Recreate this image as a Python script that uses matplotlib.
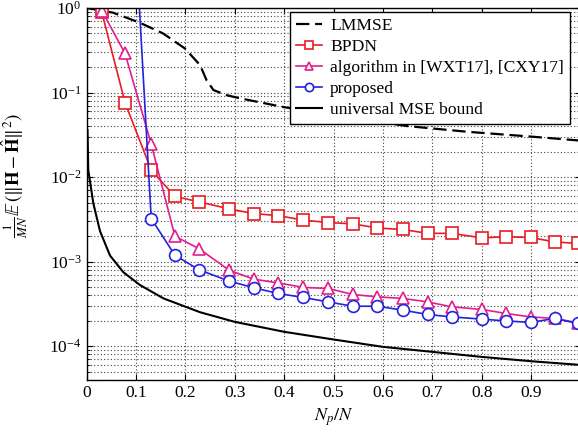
import matplotlib
matplotlib.use("Agg")
import matplotlib.pyplot as plt
from matplotlib.ticker import LogLocator, NullFormatter

plt.rcParams['font.family'] = ['Liberation Serif', 'DejaVu Serif']
plt.rcParams['mathtext.fontset'] = 'stix'

# ---- data ----
x_pts = [0.031, 0.078, 0.131, 0.179, 0.228, 0.289, 0.339, 0.388, 0.439, 0.489,
         0.539, 0.589, 0.640, 0.691, 0.739, 0.800, 0.849, 0.899, 0.948, 0.994]
bpdn = [0.89, 0.076, 0.0121, 0.0059, 0.0051, 0.0042, 0.0037, 0.0035, 0.0031, 0.0029,
        0.0028, 0.0025, 0.0024, 0.00216, 0.00216, 0.00191, 0.00197, 0.00193, 0.00171, 0.00164]
wxt = [0.93, 0.29, 0.0246, 0.0020, 0.00142, 0.00079, 0.00062, 0.00056, 0.000495, 0.000482,
       0.000409, 0.000383, 0.000367, 0.000334, 0.000292, 0.000272, 0.000244, 0.000222, 0.000213, 0.000189]
proposed = [1.0e4, 1.1e3, 0.00323, 0.00119, 0.00080, 0.000588, 0.00049, 0.00042, 0.000377, 0.000334,
            0.000297, 0.000297, 0.000267, 0.000237, 0.000222, 0.000209, 0.000199, 0.000191, 0.000213, 0.000186]

lmmse_x = [0.0, 0.054, 0.108, 0.155, 0.199, 0.23, 0.243, 0.257, 0.284, 0.311, 0.402,
           0.648, 0.770, 0.904, 1.0]
lmmse = [1.0, 0.88, 0.67, 0.50, 0.333, 0.211, 0.14, 0.107, 0.093, 0.0854, 0.0668,
         0.0402, 0.0344, 0.030, 0.027]

bound_x = [0.002, 0.0036, 0.0138, 0.0273, 0.0476, 0.0745, 0.108, 0.156, 0.201, 0.23,
           0.30, 0.40, 0.50, 0.60, 0.70, 0.80, 0.90, 1.0]
bound = [0.036, 0.0121, 0.0049, 0.0023, 0.00118, 0.00075, 0.00053, 0.000367, 0.000292, 0.000252,
         0.000194, 0.000148, 0.00012, 0.0000982, 0.0000857, 0.0000747, 0.0000664, 0.0000600]

labels = ["LMMSE", "BPDN", "algorithm in [WXT17], [CXY17]", "proposed", "universal MSE bound"]
x_ticks = [0, 0.1, 0.2, 0.3, 0.4, 0.5, 0.6, 0.7, 0.8, 0.9]

W, H = 578, 433
fig = plt.figure(figsize=(W / 100, H / 100), dpi=100)
ax = fig.add_axes([86.5 / W, (H - 380) / H, (580.5 - 86.5) / W, (380 - 8) / H])

red = '#e81c24'
mag = '#e21e8c'
blue = '#2222e0'

ax.plot(lmmse_x, lmmse, color='black', lw=1.6, ls=(0, (6, 2.6)), label=labels[0])
ax.plot(x_pts, bpdn, color=red, lw=1.2, marker='s', ms=8.5, mfc='white', mec=red, mew=1.2, label=labels[1])
ax.plot(x_pts, wxt, color=mag, lw=1.2, marker='^', ms=9, mfc='white', mec=mag, mew=1.2, label=labels[2])
ax.plot(x_pts, proposed, color=blue, lw=1.2, marker='o', ms=8.5, mfc='white', mec=blue, mew=1.2, label=labels[3])
ax.plot(bound_x, bound, color='black', lw=1.5, label=labels[4])

ax.set_yscale('log')
ax.set_xlim(0, 1)
ax.set_ylim(10 ** -4.40, 1)
ax.set_xticks(x_ticks)
ax.set_xticklabels([("%g" % t) for t in x_ticks])
ax.yaxis.set_major_locator(LogLocator(base=10, numticks=10))
ax.yaxis.set_minor_locator(LogLocator(base=10, subs=range(2, 10), numticks=20))
ax.yaxis.set_minor_formatter(NullFormatter())

ax.grid(True, which='major', ls=(0, (1, 2)), color='#444444', lw=0.8)
ax.grid(True, which='minor', axis='y', ls=(0, (1, 2)), color='#444444', lw=0.8)
ax.tick_params(which='both', direction='in', labelsize=12.5, top=True, right=True)
ax.tick_params(which='major', length=4)
ax.tick_params(which='minor', length=2.5)
for s in ax.spines.values():
    s.set_linewidth(1.0)

ax.set_xlabel(r"$N_p/N$", fontsize=13)
ax.xaxis.set_label_coords(0.5, -0.072)
ax.set_ylabel(r"$\frac{1}{MN}\mathbb{E}\,(\|\mathbf{H}-\hat{\mathbf{H}}\|^2)$", fontsize=13.5)
ax.yaxis.set_label_coords(-0.115, 0.55)

leg = fig.legend(loc='upper left', bbox_to_anchor=(290 / W, 1 - 11.7 / H), borderaxespad=0,
                 fontsize=12.6, frameon=True, fancybox=False, edgecolor='black', framealpha=1,
                 handlelength=1.45, handletextpad=0.5, labelspacing=0.27, markerscale=0.7,
                 borderpad=0.35)
leg.get_frame().set_linewidth(1.0)

fig.savefig("out.png", dpi=100)
